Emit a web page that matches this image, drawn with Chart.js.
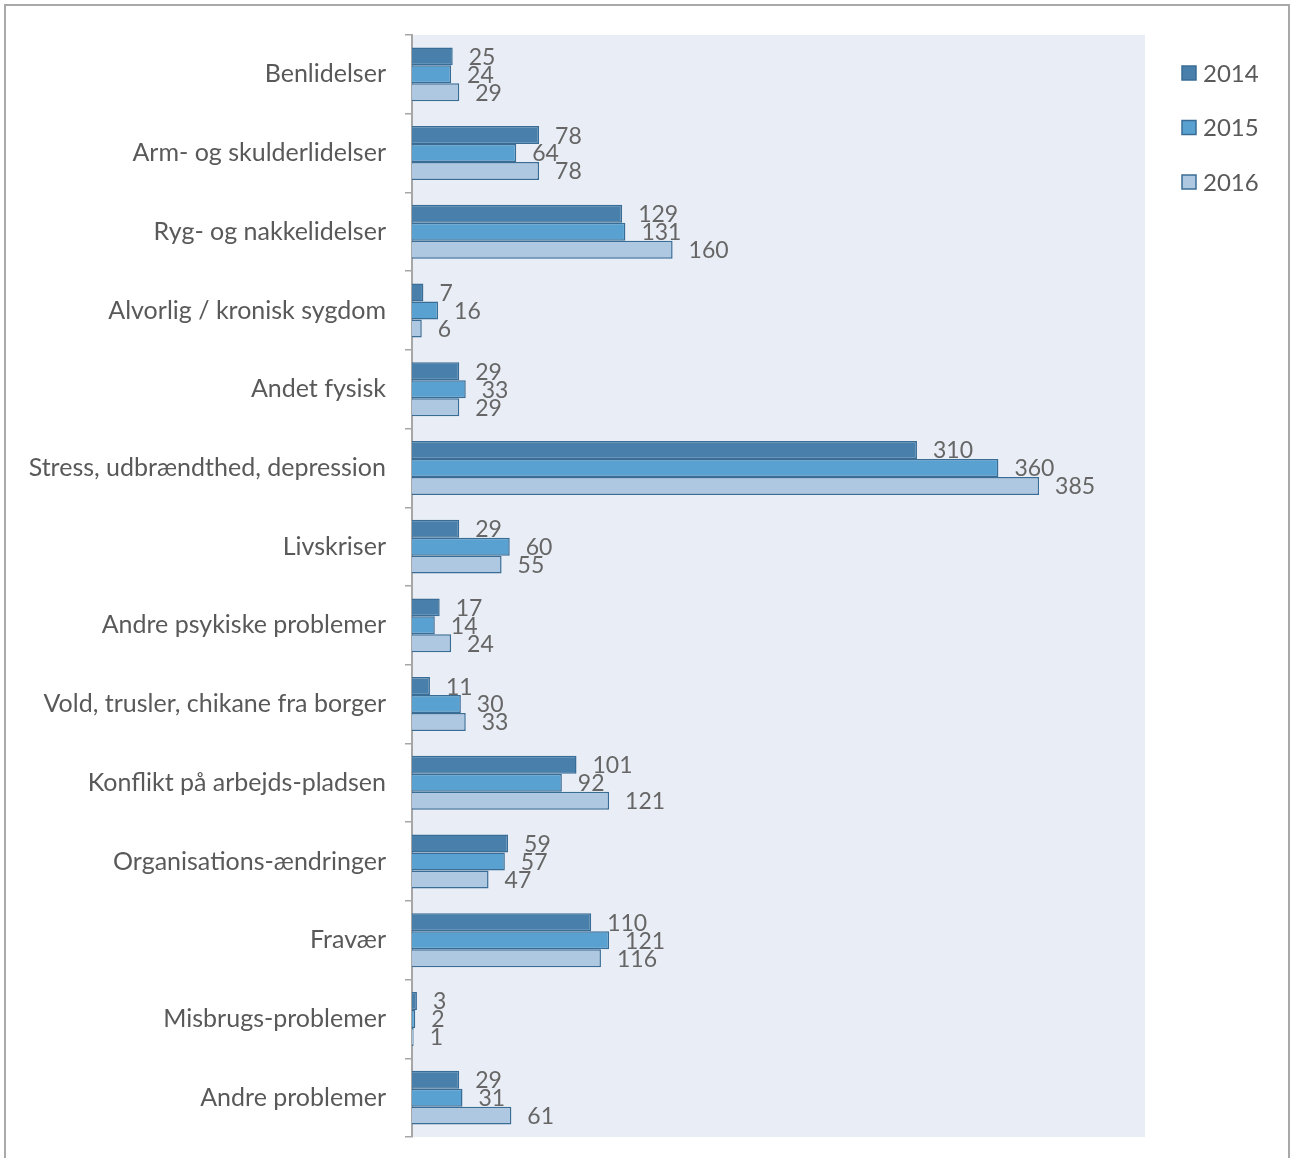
<!DOCTYPE html>
<html>
<head>
<meta charset="utf-8">
<script src="https://cdn.jsdelivr.net/npm/chart.js@4/dist/chart.umd.min.js"></script>
<style>
  html, body { margin: 0; padding: 0; background: #fff; overflow: hidden; }
  #wrap { position: relative; width: 1290px; height: 1158px; }
  #frame { position: absolute; left: 4px; top: 4px; width: 1286px; height: 1200px;
           border: 2px solid #a9a9a9; box-sizing: border-box; }
  canvas { position: absolute; left: 0; top: 0; }
</style>
</head>
<body>
<div id="wrap">
  <div id="frame"></div>
  <canvas id="c" width="1290" height="1158"></canvas>
</div>
<script>
const categories = [
  'Benlidelser',
  'Arm- og skulderlidelser',
  'Ryg- og nakkelidelser',
  'Alvorlig / kronisk sygdom',
  'Andet fysisk',
  'Stress, udbrændthed, depression',
  'Livskriser',
  'Andre psykiske problemer',
  'Vold, trusler, chikane fra borger',
  'Konflikt på arbejds-pladsen',
  'Organisations-ændringer',
  'Fravær',
  'Misbrugs-problemer',
  'Andre problemer'
];
const years = ['2014', '2015', '2016'];
const values2014 = [25, 78, 129, 7, 29, 310, 29, 17, 11, 101, 59, 110, 3, 29];
const values2015 = [24, 64, 131, 16, 33, 360, 60, 14, 30, 92, 57, 121, 2, 31];
const values2016 = [29, 78, 160, 6, 29, 385, 55, 24, 33, 121, 47, 116, 1, 61];

const fills = ['#4880ab', '#59a1d1', '#adc8e0'];
const edge = '#3a6d96';
const textGrey = '#666666';
const labelGrey = '#595959';
const FONT = 'Lato, "Open Sans", sans-serif';

const series = [values2014, values2015, values2016];

// plot background
const plotBg = {
  id: 'plotBg',
  beforeDraw(chart) {
    const a = chart.chartArea, ctx = chart.ctx;
    ctx.save();
    ctx.fillStyle = '#e9edf5';
    ctx.fillRect(a.left, a.top, a.right - a.left, a.bottom - a.top);
    ctx.restore();
  }
};

// value labels to the right of each bar
const valueLabels = {
  id: 'valueLabels',
  afterDatasetsDraw(chart) {
    const ctx = chart.ctx;
    ctx.save();
    ctx.font = '23px ' + FONT;
    ctx.fillStyle = textGrey;
    ctx.textAlign = 'left';
    ctx.textBaseline = 'middle';
    chart.data.datasets.forEach((ds, di) => {
      const meta = chart.getDatasetMeta(di);
      meta.data.forEach((bar, i) => {
        ctx.fillText(String(ds.data[i]), bar.x + 16, bar.y + 1);
      });
    });
    ctx.restore();
  }
};

// legend on the right
const sideLegend = {
  id: 'sideLegend',
  afterDraw(chart) {
    const ctx = chart.ctx;
    const x = 1182, y0 = 73, step = 54.5, box = 14;
    ctx.save();
    ctx.font = '24px ' + FONT;
    ctx.textBaseline = 'middle';
    ctx.textAlign = 'left';
    chart.data.datasets.forEach((ds, i) => {
      const cy = y0 + i * step;
      ctx.fillStyle = ds.backgroundColor;
      ctx.fillRect(x, cy - box / 2, box, box);
      ctx.strokeStyle = edge;
      ctx.lineWidth = 1.5;
      ctx.strokeRect(x, cy - box / 2, box, box);
      ctx.fillStyle = labelGrey;
      ctx.fillText(ds.label, x + 21, cy + 1);
    });
    ctx.restore();
  }
};

new Chart(document.getElementById('c'), {
  type: 'bar',
  data: {
    labels: categories,
    datasets: years.map((y, i) => ({
      label: y,
      data: series[i],
      backgroundColor: fills[i],
      borderColor: edge,
      borderWidth: 1.5,
      categoryPercentage: 0.685,
      barPercentage: 1.0
    }))
  },
  options: {
    indexAxis: 'y',
    responsive: false,
    animation: false,
    devicePixelRatio: 1,
    layout: { padding: { left: 0, right: 145, top: 35, bottom: 21 } },
    plugins: { legend: { display: false }, tooltip: { enabled: false } },
    scales: {
      x: { display: false, min: 0, max: 450 },
      y: {
        afterFit(scale) {
          scale.width = 412;
          scale.paddingTop = 0;
          scale.paddingBottom = 0;
        },
        grid: { display: true, drawOnChartArea: false, drawTicks: true, tickLength: 7,
                color: '#a6a6a6', lineWidth: 1.5, offset: true },
        border: { display: true, color: '#a6a6a6', width: 2 },
        ticks: { color: labelGrey, font: { family: FONT, size: 25 }, padding: 19 }
      }
    }
  },
  plugins: [plotBg, valueLabels, sideLegend]
});
</script>
</body>
</html>
